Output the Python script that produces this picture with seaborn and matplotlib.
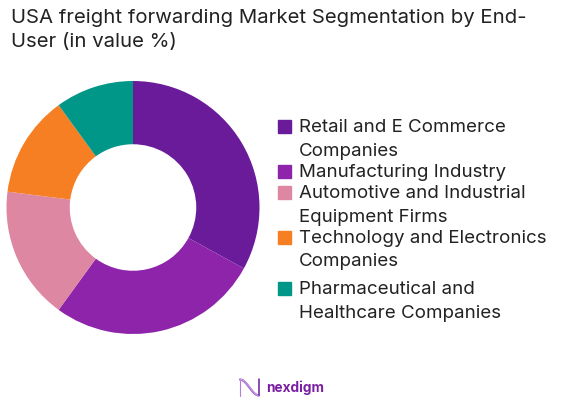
import numpy as np
import seaborn as sns
import matplotlib.pyplot as plt
from matplotlib.patches import Rectangle

# chart data
segments = [
    "Retail and E Commerce\nCompanies",
    "Manufacturing Industry",
    "Automotive and Industrial\nEquipment Firms",
    "Technology and Electronics\nCompanies",
    "Pharmaceutical and\nHealthcare Companies",
]
shares = [33, 27, 17, 13, 10]
colors = ["#6A1B9A", "#8E24AA", "#DE87A3", "#F67F23", "#009688"]
title_lines = ["USA freight forwarding Market Segmentation by End-", "User (in value %)"]

W, H = 573, 403
TEXT_COLOR = "#222222"
FONT = "Inter"

sns.set_theme(style="white")
plt.rcParams["font.family"] = [FONT, "DejaVu Sans"]

fig = plt.figure(figsize=(W / 100, H / 100), dpi=100, facecolor="white")


# pixel position to figure fraction
def fx(x):
    return x / W


def fy(y):
    return 1 - y / H


# donut
cx, cy, r = 133, 207.5, 126.5
ax = fig.add_axes([fx(cx - r), fy(cy + r), 2 * r / W, 2 * r / H])
ax.pie(
    shares,
    colors=sns.color_palette(colors),
    startangle=90,
    counterclock=False,
    radius=1,
    wedgeprops={"width": 0.5, "linewidth": 0},
)
ax.set_xlim(-1, 1)
ax.set_ylim(-1, 1)

# title
for line, y in zip(title_lines, [18, 42]):
    fig.text(fx(11), fy(y), line, fontsize=14.65, color=TEXT_COLOR, va="center")

# legend, spacing in the original is uneven so it is placed by hand
legend_y = [126, 171, 192, 237, 288]
for label, color, y in zip(segments, colors, legend_y):
    fig.add_artist(Rectangle((fx(278), fy(y + 6.5)), 13 / W, 13 / H, color=color,
                             transform=fig.transFigure))
    for i, part in enumerate(label.split("\n")):
        fig.text(fx(299), fy(y + 1.5 + i * 23.5), part, fontsize=13.5, color=TEXT_COLOR, va="center")

# logo: wave mark and name
logo = fig.add_axes([fx(239), fy(397), 21 / W, 19 / H])
t = np.linspace(0, 1, 60)
for shift, lw, c in [(0.0, 1.4, "#6A1B9A"), (0.1, 0.8, "#B57BE0"), (-0.1, 0.8, "#C9A0E8")]:
    logo.plot(t, 0.5 + 0.42 * np.cos(np.pi * t + shift), color=c, lw=lw)
logo.plot([0.02, 0.02], [0.05, 0.9], color="#B57BE0", lw=0.8)
logo.plot([0.98, 0.98], [0.1, 0.95], color="#6A1B9A", lw=1.1)
logo.set_xlim(-0.05, 1.05)
logo.set_ylim(0, 1)
logo.axis("off")
fig.text(fx(266), fy(388), "nexdigm", fontsize=9.8, fontweight="bold", color="#7B1FA2", va="center")

fig.savefig("out.png", dpi=100)
